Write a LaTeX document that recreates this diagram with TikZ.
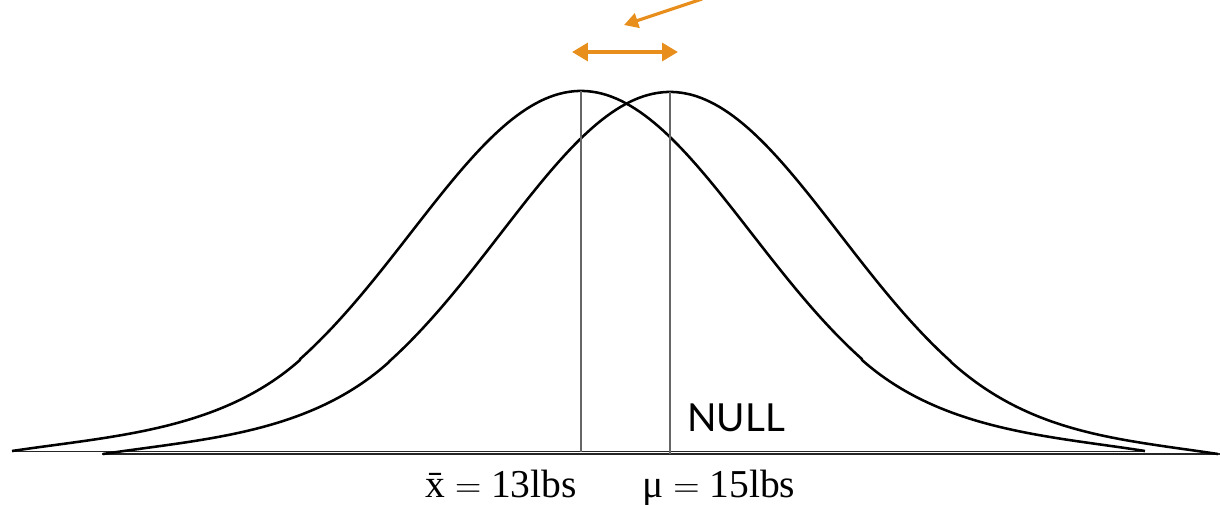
\documentclass[tikz,border=0pt]{standalone}
\usepackage{fontspec}
\usetikzlibrary{arrows.meta}
\newfontfamily\labelsans{Lato}
\newfontfamily\labelserif{Liberation Serif}
\definecolor{arrorange}{RGB}{232,142,28}
\tikzset{
  curve/.style={line width=1.45pt, black, line join=round},
  baseln/.style={line width=0.7pt, black!85},
  meanln/.style={line width=1.1pt, black!60},
  orangearr/.style={draw=arrorange, line width=2.2pt, -{Triangle[length=9pt,width=10pt]}},
  lbl/.style={inner sep=0pt, anchor=base west, font=\labelserif\fontsize{22.5}{26}\selectfont},
}
\begin{document}
\begin{tikzpicture}[x=0.02cm, y=-0.02cm]
\useasboundingbox (0,0) rectangle (1220,504);
% baselines
\draw[baseln] (12,451.5) -- (1145,451.5);
\draw[baseln] (102,454) -- (1220,454);
% sample-mean curve (centre 581)
\draw[curve] (12,451) .. controls (112,436) and (220,431) .. (300,360)
  -- plot[domain=-1.653:1.653, samples=120] ({581+170*\x},{451-360*exp(-\x*\x/2)})
  -- (862,360) .. controls (942,431) and (1050,436) .. (1145,451);
% null curve (centre 670)
\draw[curve] (103,454) .. controls (203,439) and (309,434) .. (389,362)
  -- plot[domain=-1.653:1.653, samples=120] ({670+170*\x},{454-362*exp(-\x*\x/2)})
  -- (951,362) .. controls (1031,434) and (1118,439) .. (1218,454);
% mean lines
\coordinate (xtop) at (581,91);
\coordinate (xbot) at (581,451.5);
\coordinate (mtop) at (670,92);
\coordinate (mbot) at (670,454);
\draw[meanln] (xtop) -- (xbot);
\draw[meanln] (mtop) -- (mbot);
% orange arrows
\coordinate (dl) at (572,52);
\coordinate (dr) at (678,52);
\draw[orangearr, {Triangle[length=9pt,width=10pt]}-{Triangle[length=9pt,width=10pt]}] (dl) -- (dr);
\coordinate (ptail) at (702,-1);
\coordinate (phead) at (624,25);
\draw[orangearr, line width=1.8pt, -{Triangle[length=8pt,width=8.5pt]}] (ptail) -- (phead);
% labels
\node[lbl, font=\labelsans\fontsize{22}{26}\selectfont] (null) at (687,431) {NULL};
\node[lbl] (xbar) at (425,497) {\=x $=$ 13lbs};
\node[lbl] (mu) at (642,497) {μ $=$ 15lbs};
\end{tikzpicture}
\end{document}
